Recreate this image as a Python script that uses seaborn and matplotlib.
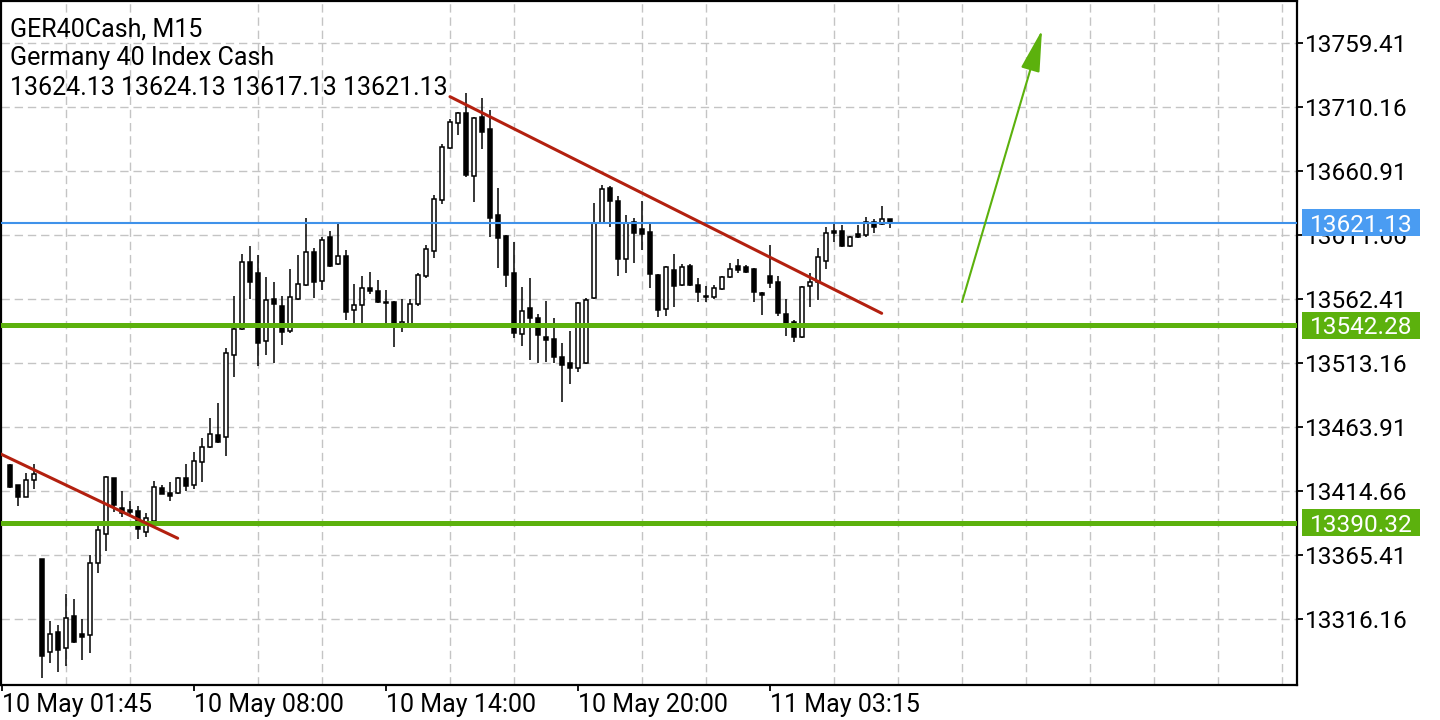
import numpy as np
import pandas as pd
import matplotlib
matplotlib.use("Agg")
import matplotlib.pyplot as plt
import matplotlib.transforms as mtransforms
from matplotlib.patches import Rectangle
import seaborn as sns

# ---------------- data (GER40Cash M15 candles) ----------------
opens = [13434.7, 13419.3, 13410.0, 13423.1, 13362.3, 13290.8, 13306.2, 13293.8, 13318.5, 13304.6,
         13303.9, 13359.2, 13381.6, 13424.7, 13401.6, 13400.0, 13399.3, 13383.1, 13391.6, 13417.0,
         13413.1, 13413.1, 13424.7, 13419.3, 13437.0, 13448.5, 13457.8, 13456.2, 13519.3, 13539.3,
         13590.9, 13582.4, 13530.1, 13562.4, 13557.0, 13537.8, 13562.4, 13573.2, 13598.6, 13576.3,
         13610.1, 13589.3, 13595.5, 13554.0, 13557.8, 13570.9, 13568.6, 13560.1, 13560.1, 13543.2,
         13542.4, 13558.6, 13580.1, 13599.4, 13638.6, 13678.6, 13697.8, 13705.5, 13657.1, 13702.5,
         13693.2, 13627.1, 13610.9, 13582.4, 13535.5, 13555.5, 13547.8, 13533.2, 13531.6, 13517.8,
         13513.2, 13509.3, 13513.2, 13563.2, 13620.9, 13647.8, 13637.8, 13593.2, 13621.7, 13616.3,
         13614.0, 13580.9, 13554.7, 13584.7, 13573.2, 13587.8, 13573.2, 13564.7, 13564.0, 13570.1,
         13579.3, 13587.8, 13587.0, 13585.5, 13567.0, 13580.1, 13575.5, 13550.9, 13544.7, 13533.2,
         13572.4, 13575.5, 13591.6, 13614.7, 13614.7, 13603.2, 13612.4, 13611.7, 13621.7, 13620.1,
         13624.13]
highs = [13435.4, 13419.3, 13428.5, 13435.4, 13362.3, 13314.6, 13311.5, 13335.4, 13331.6, 13316.2,
         13365.4, 13387.7, 13426.2, 13424.7, 13414.7, 13407.0, 13403.1, 13397.7, 13422.4, 13419.3,
         13421.6, 13425.4, 13435.4, 13444.7, 13455.4, 13470.8, 13482.4, 13524.7, 13564.7, 13597.0,
         13603.2, 13596.3, 13579.3, 13575.5, 13564.7, 13585.5, 13596.3, 13624.7, 13601.7, 13610.1,
         13614.7, 13621.7, 13600.1, 13574.0, 13580.1, 13583.2, 13577.0, 13569.3, 13560.9, 13562.4,
         13562.4, 13582.4, 13604.0, 13642.4, 13681.7, 13700.9, 13706.3, 13720.9, 13702.5, 13717.1,
         13707.9, 13647.8, 13611.7, 13606.3, 13571.6, 13578.6, 13550.9, 13560.9, 13547.8, 13528.6,
         13537.8, 13560.1, 13563.2, 13636.3, 13650.1, 13649.4, 13641.7, 13627.1, 13624.7, 13637.8,
         13621.7, 13581.6, 13587.8, 13597.0, 13589.3, 13589.3, 13578.6, 13572.4, 13573.2, 13580.1,
         13590.1, 13593.2, 13588.6, 13586.3, 13567.8, 13604.0, 13580.1, 13562.4, 13546.3, 13572.4,
         13582.4, 13601.7, 13617.8, 13621.7, 13619.3, 13610.9, 13619.3, 13625.5, 13624.0, 13634.0,
         13624.13]
lows = [13417.0, 13403.1, 13410.0, 13416.2, 13270.8, 13282.3, 13275.4, 13280.0, 13297.7, 13284.6,
        13290.0, 13351.6, 13368.5, 13398.5, 13394.7, 13396.2, 13377.7, 13379.3, 13391.6, 13412.3,
        13407.0, 13412.3, 13414.7, 13416.2, 13421.6, 13447.8, 13451.6, 13441.6, 13502.4, 13538.6,
        13562.4, 13510.9, 13519.3, 13513.2, 13527.0, 13536.3, 13561.6, 13572.4, 13563.2, 13569.3,
        13587.0, 13588.6, 13546.3, 13540.1, 13540.1, 13566.3, 13559.3, 13543.9, 13525.5, 13537.0,
        13541.6, 13557.0, 13578.6, 13594.0, 13635.5, 13677.8, 13688.6, 13656.3, 13637.1, 13677.8,
        13610.1, 13586.3, 13571.6, 13532.4, 13526.2, 13515.5, 13513.2, 13513.9, 13513.2, 13483.2,
        13497.0, 13506.2, 13512.4, 13562.4, 13620.1, 13617.8, 13580.1, 13582.4, 13590.1, 13600.1,
        13570.9, 13548.6, 13549.3, 13556.3, 13572.4, 13572.4, 13560.1, 13560.1, 13562.4, 13569.3,
        13578.6, 13582.4, 13582.4, 13560.1, 13550.1, 13570.9, 13549.3, 13533.9, 13529.3, 13532.4,
        13556.3, 13561.6, 13585.5, 13606.3, 13602.4, 13602.4, 13609.4, 13610.1, 13613.2, 13619.3,
        13617.13]
closes = [13417.7, 13410.0, 13423.1, 13427.7, 13287.7, 13304.6, 13292.3, 13316.9, 13298.5, 13302.3,
          13359.2, 13384.6, 13425.4, 13403.9, 13397.7, 13398.5, 13385.4, 13393.9, 13417.7, 13412.3,
          13410.8, 13424.7, 13418.5, 13437.8, 13448.5, 13458.5, 13452.4, 13520.9, 13539.3, 13590.9,
          13575.5, 13528.6, 13561.6, 13558.6, 13537.0, 13564.0, 13574.0, 13598.6, 13575.5, 13607.8,
          13587.8, 13595.5, 13552.4, 13557.8, 13570.9, 13568.6, 13560.1, 13559.3, 13543.9, 13544.7,
          13558.6, 13580.9, 13600.9, 13639.4, 13679.4, 13698.6, 13705.5, 13657.8, 13701.7, 13690.9,
          13624.7, 13609.4, 13580.9, 13536.3, 13553.2, 13547.8, 13534.7, 13530.9, 13517.8, 13511.6,
          13509.3, 13559.3, 13561.6, 13620.9, 13647.1, 13637.8, 13593.2, 13620.9, 13613.2, 13612.4,
          13581.6, 13554.0, 13587.0, 13572.4, 13587.0, 13573.2, 13567.8, 13564.0, 13570.9, 13579.3,
          13585.5, 13584.7, 13583.2, 13567.8, 13565.5, 13574.7, 13551.6, 13543.9, 13533.2, 13571.6,
          13575.5, 13594.7, 13613.2, 13613.2, 13603.2, 13610.1, 13610.1, 13621.7, 13617.8, 13624.0,
          13621.13]

ytick_values = [13759.41, 13710.16, 13660.91, 13611.66, 13562.41,
                13513.16, 13463.91, 13414.66, 13365.41, 13316.16]
xtick_bars = [-1, 23, 47, 71, 95]
xtick_labels = ["10 May 01:45", "10 May 08:00", "10 May 14:00", "10 May 20:00", "11 May 03:15"]

header_lines = ["GER40Cash, M15", "Germany 40 Index Cash",
                "13624.13 13624.13 13617.13 13621.13"]

bid_level = 13621.13
support_levels = [13542.28, 13390.32]

trend1_bars = [55, 108.96]
trend1_prices = [13718.1, 13551.4]
trend2_bars = [-1.25, 20.96]
trend2_prices = [13443.4, 13378.3]
arrow_bars = [119, 129]
arrow_prices = [13560.1, 13769.4]

# ---------------- styling ----------------
sns.set_theme(style="white")
plt.rcParams["font.family"] = ["Roboto", "DejaVu Sans"]
FS = 18
FS_Y = 17.6
RED = "#b3200f"
GREEN = "#5cb10d"
BLUE = "#3f92ea"
BLUE_BOX = "#4a9cf2"
GRID = "#c4c4c4"

df = pd.DataFrame({"open": opens, "high": highs, "low": lows, "close": closes})
df["bar"] = np.arange(len(df))
df["up"] = df["close"] >= df["open"]
df["body_bottom"] = df[["open", "close"]].min(axis=1)
df["body_h"] = (df["close"] - df["open"]).abs().clip(lower=1.0)

fig = plt.figure(figsize=(14.4, 7.2), dpi=100)
ax = fig.add_axes([1 / 1440, 35 / 720, 1296 / 1440, 684 / 720])
ax.set_facecolor("white")

# wicks
ax.vlines(df["bar"], df["low"], df["high"], color="black", lw=1.1, zorder=3)
# bodies
up = df[df["up"]]
dn = df[~df["up"]]
ax.bar(up["bar"], up["body_h"], bottom=up["body_bottom"], width=0.62,
       color="white", edgecolor="black", linewidth=1.1, zorder=4)
ax.bar(dn["bar"], dn["body_h"], bottom=dn["body_bottom"], width=0.62,
       color="black", edgecolor="black", linewidth=1.1, zorder=4)

# level lines
ax.axhline(bid_level, color=BLUE, lw=1.5, zorder=5)
for lv in support_levels:
    ax.axhline(lv, color=GREEN, lw=3.6, zorder=5)

# trend lines
sns.lineplot(x=trend1_bars, y=trend1_prices, ax=ax, color=RED, lw=2.2, zorder=6, legend=False)
sns.lineplot(x=trend2_bars, y=trend2_prices, ax=ax, color=RED, lw=2.2, zorder=6, legend=False)

# green arrow
ax.annotate("", xy=(arrow_bars[1], arrow_prices[1]), xytext=(arrow_bars[0], arrow_prices[0]),
            arrowprops=dict(arrowstyle="-|>,head_length=1.3,head_width=0.3", color=GREEN,
                            lw=1.5, mutation_scale=20, shrinkA=0, shrinkB=0), zorder=6)

# axes limits
ax.set_xlim(-1.125, 160.875)
ax.set_ylim(13265.37, 13791.73)

# ticks & grid
ax.yaxis.tick_right()
ax.set_yticks(ytick_values)
ax.set_yticklabels([f"{v:.2f}" for v in ytick_values], fontsize=FS_Y, color="black")
ax.set_xticks(xtick_bars)
ax.set_xticklabels(xtick_labels, fontsize=FS, color="black")
for lbl in ax.get_xticklabels():
    lbl.set_horizontalalignment("left")
ax.set_xticks(np.arange(7, 161, 8), minor=True)
ax.tick_params(axis="y", which="major", direction="out", length=4, width=1.3, pad=1.5,
               right=True, left=False, colors="black")
ax.tick_params(axis="x", which="major", direction="out", length=4, width=1.3, pad=2,
               bottom=True, colors="black")
ax.tick_params(axis="x", which="minor", length=0)
ax.grid(False)
ax.yaxis.grid(True, which="major", color=GRID, lw=1.0, ls=(0, (6, 3.5)), zorder=0)
ax.xaxis.grid(True, which="minor", color=GRID, lw=1.0, ls=(0, (6, 3.5)), zorder=0)
ax.set_axisbelow(True)
for sp in ax.spines.values():
    sp.set_visible(True)
    sp.set_color("black")
    sp.set_linewidth(1.6)

# price boxes on the right scale
trans = mtransforms.blended_transform_factory(ax.transAxes, ax.transData)
box_x0 = (1302 - 1) / 1296
box_w = 118 / 1296
box_h = 27 * 0.76953


def price_box(value, color):
    ax.add_patch(Rectangle((box_x0, value - box_h / 2), box_w, box_h, transform=trans,
                           facecolor=color, edgecolor="none", clip_on=False, zorder=20))
    ax.text(box_x0 + box_w / 2, value, f"{value:.2f}", transform=trans, ha="center",
            va="center_baseline", color="white", fontsize=FS_Y, clip_on=False, zorder=21)


price_box(bid_level, BLUE_BOX)
for lv in support_levels:
    price_box(lv, GREEN)

# header text
for txt, base_y in zip(header_lines, [36, 65, 95]):
    fig.text(10 / 1440, 1 - base_y / 720, txt, fontsize=FS, color="black",
             ha="left", va="baseline")

fig.savefig("out.png", dpi=100, facecolor="white")
